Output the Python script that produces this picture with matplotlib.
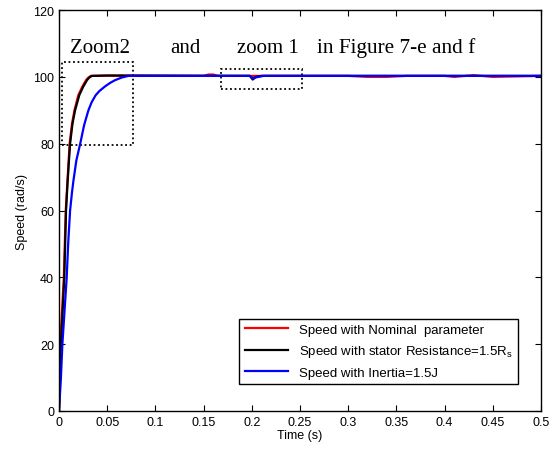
import matplotlib.pyplot as plt
from matplotlib.patches import Rectangle

# 데이터
t_nom = [0, 0.0005, 0.001, 0.002, 0.0035, 0.005, 0.007, 0.009, 0.011, 0.0135, 0.016, 0.020,
         0.024, 0.028, 0.030, 0.033, 0.05, 0.15, 0.155, 0.16, 0.165, 0.2, 0.3, 0.32, 0.34, 0.36, 0.4,
         0.41, 0.43, 0.45, 0.5]
v_nom = [0, 8, 15, 24, 32, 40, 60, 70, 80, 86, 90, 94.5,
         97, 99, 99.7, 100.3, 100.4, 100.3, 100.7, 100.7, 100.3, 100.3, 100.3, 100.0, 100.0, 100.3, 100.3,
         100.0, 100.5, 100.0, 100.3]

t_rs = [0, 0.001, 0.002, 0.004, 0.0055, 0.0073, 0.009, 0.0115, 0.014, 0.0167, 0.021, 0.025,
        0.029, 0.031, 0.034, 0.05, 0.198, 0.201, 0.204, 0.21, 0.5]
v_rs = [0, 10, 20, 31, 40, 60, 69, 80, 86, 90, 94.5, 97,
        99, 99.7, 100.3, 100.4, 100.3, 99.2, 100.0, 100.3, 100.3]

t_j = [0, 0.002, 0.0035, 0.008, 0.0095, 0.0115, 0.0135, 0.015, 0.018, 0.022, 0.026, 0.0305,
       0.034, 0.038, 0.042, 0.048, 0.053, 0.058, 0.065, 0.072, 0.198, 0.201, 0.205, 0.212, 0.5]
v_j = [0, 10, 20, 40, 50, 60, 65.5, 69, 75, 80, 85.5, 90,
       92.5, 94.5, 95.8, 97.2, 98.2, 99.0, 99.8, 100.3, 100.3, 99.5, 99.9, 100.3, 100.3]

x_ticks = [0, 0.05, 0.1, 0.15, 0.2, 0.25, 0.3, 0.35, 0.4, 0.45, 0.5]
x_labels = ["0", "0.05", "0.1", "0.15", "0.2", "0.25", "0.3", "0.35", "0.4", "0.45", "0.5"]
y_ticks = [0, 20, 40, 60, 80, 100, 120]

plt.rcParams["font.family"] = ["Liberation Sans", "DejaVu Sans"]

fig = plt.figure(figsize=(5.54, 4.52), dpi=100)
ax = fig.add_axes([0.1065, 0.0885, 0.87, 0.887])

ax.plot(t_nom, v_nom, color="red", lw=1.6, label="Speed with Nominal  parameter")
ax.plot(t_rs, v_rs, color="black", lw=1.6, label="Speed with stator Resistance=1.5R$_\\mathregular{s}$")
ax.plot(t_j, v_j, color="blue", lw=1.6, label="Speed with Inertia=1.5J")

ax.set_xlim(0, 0.5)
ax.set_ylim(0, 120)
ax.set_xticks(x_ticks)
ax.set_xticklabels(x_labels)
ax.set_yticks(y_ticks)
ax.tick_params(direction="in", top=True, right=True, labelsize=9, length=4, width=0.8)
for s in ax.spines.values():
    s.set_linewidth(1.0)
ax.set_xlabel("Time (s)", fontsize=9, labelpad=1)
ax.set_ylabel("Speed (rad/s)", fontsize=9, labelpad=4)

# 확대영역 표시 (점선 박스)
ax.add_patch(Rectangle((0.0028, 79.7), 0.0736, 24.8, fill=False, ls=(0, (1, 1.5)), lw=1.3, ec="black"))
ax.add_patch(Rectangle((0.168, 96.5), 0.084, 5.8, fill=False, ls=(0, (1, 1.5)), lw=1.3, ec="black"))

serif = ["Liberation Serif", "DejaVu Serif"]
ax.text(0.0115, 107.5, "Zoom2", family=serif, fontsize=15, va="baseline")
ax.text(0.1155, 107.5, "and", family=serif, fontsize=15, va="baseline")
ax.text(0.185, 107.5, "zoom 1", family=serif, fontsize=15, va="baseline")
ax.text(0.2677, 107.5, "in Figure 7-e and f", family=serif, fontsize=15.3, va="baseline")

leg = ax.legend(loc="lower right", bbox_to_anchor=(0.952, 0.067), fontsize=9.5,
                fancybox=False, framealpha=1, edgecolor="black", handlelength=3.3,
                borderaxespad=0, labelspacing=0.55)
leg.get_frame().set_linewidth(1.0)

fig.savefig("out.png", dpi=100)
